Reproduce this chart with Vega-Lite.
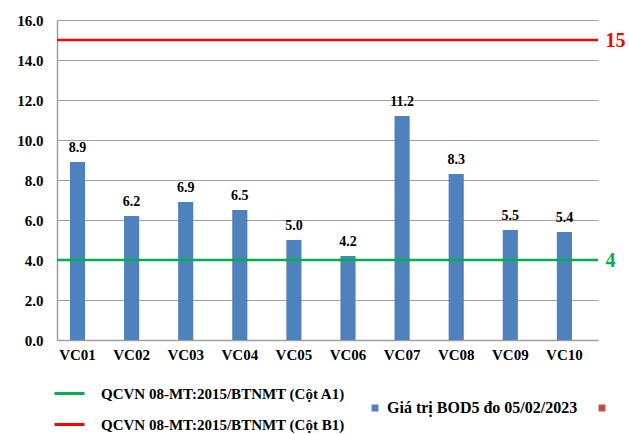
{
  "$schema": "https://vega.github.io/schema/vega-lite/v6.json",
  "autosize": "none",
  "width": 541,
  "height": 320,
  "padding": {"left": 57, "top": 20, "right": 31, "bottom": 94},
  "background": "white",
  "config": {
    "font": "Times New Roman, Liberation Serif, serif",
    "view": {"stroke": null},
    "legend": {"labelFont": "Times New Roman, Liberation Serif, serif", "labelFontWeight": "bold", "labelFontSize": 16, "labelColor": "black", "labelLimit": 400}
  },
  "datasets": {
    "bod": [
      {"site": "VC01", "value": 8.9, "series": "Giá trị BOD5 đo 05/02/2023"},
      {"site": "VC02", "value": 6.2, "series": "Giá trị BOD5 đo 05/02/2023"},
      {"site": "VC03", "value": 6.9, "series": "Giá trị BOD5 đo 05/02/2023"},
      {"site": "VC04", "value": 6.5, "series": "Giá trị BOD5 đo 05/02/2023"},
      {"site": "VC05", "value": 5.0, "series": "Giá trị BOD5 đo 05/02/2023"},
      {"site": "VC06", "value": 4.2, "series": "Giá trị BOD5 đo 05/02/2023"},
      {"site": "VC07", "value": 11.2, "series": "Giá trị BOD5 đo 05/02/2023"},
      {"site": "VC08", "value": 8.3, "series": "Giá trị BOD5 đo 05/02/2023"},
      {"site": "VC09", "value": 5.5, "series": "Giá trị BOD5 đo 05/02/2023"},
      {"site": "VC10", "value": 5.4, "series": "Giá trị BOD5 đo 05/02/2023"}
    ],
    "limits": [
      {"name": "QCVN 08-MT:2015/BTNMT (Cột A1)", "value": 4},
      {"name": "QCVN 08-MT:2015/BTNMT (Cột B1)", "value": 15}
    ]
  },
  "layer": [
    {
      "data": {"name": "bod"},
      "encoding": {
        "x": {
          "field": "site",
          "type": "nominal",
          "sort": null,
          "scale": {"paddingInner": 0.72, "paddingOuter": 0.36, "align": 0.332},
          "axis": {
            "title": null,
            "labelAngle": 0,
            "ticks": false,
            "domainColor": "#a0a0a0",
            "domainWidth": 1.5,
            "labelPadding": 7,
            "labelFont": "Times New Roman, Liberation Serif, serif",
            "labelFontWeight": "bold",
            "labelFontSize": 15,
            "labelColor": "black"
          }
        },
        "y": {
          "field": "value",
          "type": "quantitative",
          "scale": {"domain": [0, 16], "nice": false},
          "axis": {
            "title": null,
            "values": [0, 2, 4, 6, 8, 10, 12, 14, 16],
            "format": ".1f",
            "grid": true,
            "gridColor": "#a0a0a0",
            "gridWidth": 1.2,
            "domainColor": "#a0a0a0",
            "domainWidth": 1.5,
            "ticks": false,
            "labelPadding": 14,
            "labelFont": "Times New Roman, Liberation Serif, serif",
            "labelFontWeight": "bold",
            "labelFontSize": 15,
            "labelColor": "black"
          }
        }
      },
      "layer": [
        {
          "mark": {"type": "bar"},
          "encoding": {
            "fill": {
              "field": "series",
              "type": "nominal",
              "scale": {"domain": ["Giá trị BOD5 đo 05/02/2023", " "], "range": ["#4f81bd", "#c0504d"]},
              "legend": {
                "title": null,
                "orient": "none",
                "direction": "horizontal",
                "legendX": 310,
                "legendY": 380,
                "symbolType": "square",
                "symbolSize": 49,
                "symbolStrokeWidth": 0,
                "labelOffset": 4,
                "columnPadding": 16
              }
            }
          }
        },
        {
          "mark": {"type": "text", "baseline": "alphabetic", "dy": -10, "fontWeight": "bold", "fontSize": 14, "font": "Times New Roman, Liberation Serif, serif", "color": "black"},
          "encoding": {
            "text": {"field": "value", "type": "quantitative", "format": ".1f"}
          }
        }
      ]
    },
    {
      "data": {"name": "limits"},
      "mark": {"type": "rule", "strokeWidth": 2.5},
      "encoding": {
        "y": {
          "field": "value",
          "type": "quantitative",
          "scale": {"domain": [0, 16], "nice": false},
          "axis": {
            "title": null,
            "orient": "right",
            "values": [4, 15],
            "grid": false,
            "domain": false,
            "ticks": false,
            "labelPadding": 7,
            "labelFont": "Times New Roman, Liberation Serif, serif",
            "labelFontWeight": "bold",
            "labelFontSize": 20,
            "labelColor": {"expr": "datum.value == 4 ? '#00b050' : '#ff0000'"}
          }
        },
        "stroke": {
          "field": "name",
          "type": "nominal",
          "scale": {"range": ["#00b050", "#ff0000"]},
          "legend": {
            "title": null,
            "orient": "none",
            "direction": "vertical",
            "legendX": -4,
            "legendY": 357,
            "symbolType": "stroke",
            "symbolSize": 900,
            "symbolStrokeWidth": 3,
            "labelOffset": 15,
            "labelFontSize": 15,
            "rowPadding": 6
          }
        }
      }
    }
  ],
  "resolve": {"axis": {"y": "independent"}, "scale": {"y": "shared"}}
}
